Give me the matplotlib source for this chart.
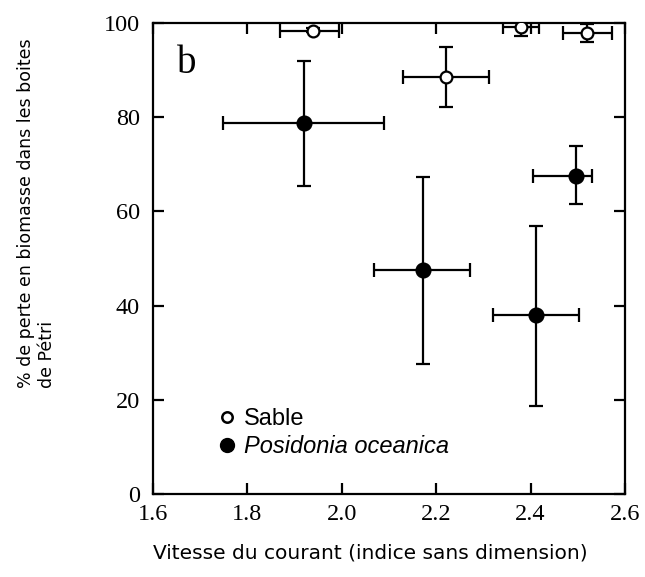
import matplotlib
matplotlib.use("Agg")
import matplotlib.pyplot as plt
from matplotlib.lines import Line2D

# Sable (open circles)
sable_x = [1.94, 2.22, 2.38, 2.52]
sable_y = [98.3, 88.6, 99.2, 97.9]
sable_xlo = [1.87, 2.13, 2.342, 2.469]
sable_xhi = [1.995, 2.312, 2.418, 2.572]
sable_ylo = [98.0, 82.2, 97.2, 96.0]
sable_yhi = [99.0, 94.8, 100.5, 99.8]

# Posidonia oceanica (filled circles)
pos_x = [1.92, 2.171, 2.411, 2.497]
pos_y = [78.7, 47.6, 37.9, 67.6]
pos_xlo = [1.748, 2.069, 2.321, 2.406]
pos_xhi = [2.089, 2.272, 2.503, 2.53]
pos_ylo = [65.3, 27.6, 18.6, 61.5]
pos_yhi = [92.0, 67.4, 56.9, 73.8]

xticks = [1.6, 1.8, 2.0, 2.2, 2.4, 2.6]
yticks = [0, 20, 40, 60, 80, 100]

fig = plt.figure(figsize=(6.45, 5.77), dpi=100)
ax = fig.add_axes([153/645, 83/577, 472/645, 471/577])

def draw(xs, ys, xlo, xhi, ylo, yhi, face, ms):
    xerr = [[x - l for x, l in zip(xs, xlo)], [h - x for x, h in zip(xs, xhi)]]
    yerr = [[y - l for y, l in zip(ys, ylo)], [h - y for y, h in zip(ys, yhi)]]
    ax.errorbar(xs, ys, xerr=xerr, yerr=yerr, fmt='none', ecolor='black',
                elinewidth=1.6, capsize=5, capthick=1.6, zorder=2)
    ax.plot(xs, ys, 'o', ms=ms, mfc=face, mec='black', mew=1.6, ls='none', zorder=3)

draw(sable_x, sable_y, sable_xlo, sable_xhi, sable_ylo, sable_yhi, 'white', 8.5)
draw(pos_x, pos_y, pos_xlo, pos_xhi, pos_ylo, pos_yhi, 'black', 10)

ax.set_xlim(1.6, 2.6)
ax.set_ylim(0, 100)
ax.set_xticks(xticks)
ax.set_yticks(yticks)
ax.set_xticklabels([f"{t:.1f}" for t in xticks], fontfamily='Liberation Serif', fontsize=17.5)
ax.set_yticklabels([str(t) for t in yticks], fontfamily='Liberation Serif', fontsize=17.5)
ax.tick_params(direction='in', length=8, width=1.6, top=True, right=True)
ax.tick_params(axis='x', pad=7)
ax.tick_params(axis='y', pad=9.5)
for s in ax.spines.values():
    s.set_linewidth(1.6)

ax.text(1.651, 91.5, 'b', fontfamily='Liberation Serif', fontsize=28, ha='left', va='center')

handles = [
    Line2D([], [], marker='o', ls='none', ms=7.5, mfc='white', mec='black', mew=1.8),
    Line2D([], [], marker='o', ls='none', ms=10, mfc='black', mec='black'),
]
leg = ax.legend(handles, ['Sable', 'Posidonia oceanica'], loc='upper left',
                bbox_to_anchor=(0.137, 0.182), frameon=False, handletextpad=0.3,
                handlelength=0.8, labelspacing=0.2, borderpad=0, borderaxespad=0,
                prop={'family': 'Liberation Sans', 'size': 17})
leg.get_texts()[1].set_fontstyle('italic')

fig.text(153/645, 1 - 553/577, 'Vitesse du courant (indice sans dimension)',
         fontfamily='DejaVu Sans', fontsize=14.5, ha='left', va='center')
fig.text(0.026, 189/577, '% de perte en biomasse dans les boites\nde Pétri', rotation=90,
         fontfamily='DejaVu Sans', fontsize=12.5, ha='left', va='bottom',
         multialignment='left')

fig.savefig('out.png', dpi=100)
